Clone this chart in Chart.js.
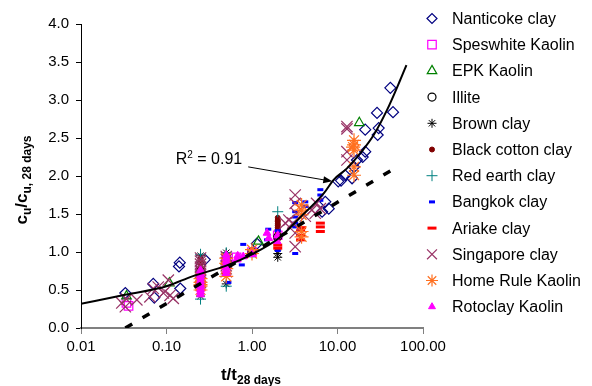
<!DOCTYPE html>
<html>
<head>
<meta charset="utf-8">
<script src="https://cdn.jsdelivr.net/npm/chart.js@4.4.1/dist/chart.umd.min.js"></script>
<style>
  html, body { margin: 0; padding: 0; background: #fff; }
  canvas { display: block; }
</style>
</head>
<body>
<canvas id="strengthChart" width="592" height="386"></canvas>
<script>
// --- axis ticks ---
const xTicks = [0.01, 0.1, 1, 10, 100];
const xTickLabels = ['0.01', '0.10', '1.00', '10.00', '100.00'];
const yTicks = [0, 0.5, 1, 1.5, 2, 2.5, 3, 3.5, 4];

// --- measured points, t/t28 vs cu/cu28 ---
const seriesNames = ['Nanticoke clay', 'Speswhite Kaolin', 'EPK Kaolin', 'Illite', 'Brown clay',
  'Black cotton clay', 'Red earth clay', 'Bangkok clay', 'Ariake clay', 'Singapore clay',
  'Home Rule Kaolin', 'Rotoclay Kaolin'];

const nanticokeX = [0.033, 0.070, 0.072, 0.140, 0.143, 0.145, 0.28, 1.14, 6.6, 7.2, 7.9, 10.2, 11.0, 12.3, 14.8, 15.6, 16.9, 19.7, 21.1, 21.1, 29.0, 29.5, 30.3, 41.5, 44.6];
const nanticokeY = [0.46, 0.58, 0.40, 0.81, 0.86, 0.52, 0.90, 1.11, 1.53, 1.66, 1.57, 1.93, 1.94, 2.01, 1.97, 2.12, 2.21, 2.25, 2.32, 2.61, 2.83, 2.54, 2.63, 3.16, 2.84];

const speswhiteX = [0.034, 0.036, 0.25, 0.25, 0.5, 0.5, 0.66, 1.0, 2.0];
const speswhiteY = [0.33, 0.29, 0.72, 0.55, 0.82, 0.90, 0.93, 1.00, 1.22];

const epkX = [0.034, 0.108, 0.25, 0.5, 1.19, 18.0];
const epkY = [0.42, 0.59, 0.78, 0.88, 1.14, 2.70];

const illiteX = [0.25, 0.5, 1.0, 2.0];
const illiteY = [0.82, 0.91, 1.00, 1.20];

const brownX = [0.25, 0.25, 0.25, 0.5, 0.5, 0.5, 2.0, 2.0];
const brownY = [0.95, 0.88, 0.42, 0.99, 0.92, 0.58, 0.98, 0.93];

const blackCottonX = [0.25, 0.25, 0.25, 0.25, 0.25, 0.25, 0.25, 0.5, 0.5, 0.5, 0.5, 0.5, 0.5, 0.5, 0.5,
  2.0, 2.0, 2.0, 2.0, 2.0, 2.0, 2.0, 2.0, 2.0, 2.0, 2.0, 2.0];
const blackCottonY = [0.90, 0.85, 0.78, 0.74, 0.70, 0.66, 0.62, 0.96, 0.93, 0.89, 0.86, 0.82, 0.79, 0.75, 0.72,
  1.45, 1.42, 1.40, 1.37, 1.35, 1.32, 1.30, 1.28, 1.25, 1.22, 1.20, 1.17];

const redEarthX = [0.25, 0.25, 0.5, 0.5, 2.0];
const redEarthY = [0.97, 0.38, 0.99, 0.55, 1.53];

const bangkokX = [0.25, 0.25, 0.5, 0.53, 0.76, 0.79, 1.0, 1.5, 1.55, 2.0, 2.0, 2.0, 2.0, 3.2, 3.2, 3.2, 3.2, 3.2, 3.2, 4.2, 4.2, 6.3, 6.3, 6.3];
const bangkokY = [0.45, 0.55, 0.70, 0.60, 0.83, 1.10, 0.95, 1.16, 1.30, 1.10, 1.20, 1.28, 1.02, 0.98, 1.33, 1.38, 1.46, 1.53, 1.65, 1.66, 1.60, 1.82, 1.75, 1.68];

const ariakeX = [0.5, 2.0, 2.0, 3.7, 3.7, 3.7, 3.8, 6.3, 6.3, 6.3];
const ariakeY = [0.72, 1.05, 1.09, 1.16, 1.22, 1.28, 1.32, 1.27, 1.33, 1.38];

const singaporeX = [0.030, 0.033, 0.034, 0.045, 0.064, 0.070, 0.080, 0.092, 0.096, 0.105, 0.110, 0.120,
  0.25, 0.25, 0.25, 0.25, 0.25, 0.25, 0.25, 0.25, 0.25,
  0.5, 0.5, 0.5, 0.5, 0.5, 0.5,
  2.45, 2.7, 3.0, 3.2, 3.2, 3.2, 3.3, 3.2, 4.2, 5.0, 5.5, 5.7, 6.3,
  12.9, 12.9, 12.9, 12.9];
const singaporeY = [0.33, 0.28, 0.38, 0.37, 0.41, 0.52, 0.54, 0.46, 0.48, 0.63, 0.43, 0.39,
  0.92, 0.88, 0.84, 0.80, 0.76, 0.72, 0.68, 0.64, 0.60,
  0.94, 0.90, 0.86, 0.82, 0.78, 0.74,
  1.38, 1.42, 1.38, 1.75, 1.64, 1.25, 1.51, 1.07, 1.47, 1.55, 1.51, 1.64, 1.57,
  2.65, 2.62, 2.32, 2.21];

const homeRuleX = [0.25, 0.25, 0.25, 0.25, 0.25, 0.5, 0.5, 0.5, 0.5, 1.0, 1.0, 3.8, 3.8, 3.8, 3.8, 3.8, 15.6, 15.6, 15.6, 15.6, 15.6, 15.2];
const homeRuleY = [0.50, 0.55, 0.57, 0.60, 0.65, 0.92, 0.85, 0.78, 0.68, 1.03, 0.98, 1.20, 1.27, 1.49, 1.55, 1.62, 2.47, 2.41, 2.34, 2.12, 2.01, 2.38];

const rotoclayX = [0.25, 0.25, 0.25, 0.25, 0.25, 0.25, 0.25, 0.25, 0.25, 0.25,
  0.5, 0.5, 0.5, 0.5, 0.5, 0.5, 0.5, 0.66, 0.68, 0.79, 1.0, 1.5, 1.57, 1.97, 2.0];
const rotoclayY = [0.44, 0.48, 0.51, 0.55, 0.58, 0.62, 0.66, 0.69, 0.72, 0.76,
  0.72, 0.76, 0.80, 0.84, 0.88, 0.92, 0.96, 0.90, 0.95, 0.94, 0.97, 1.25, 1.18, 1.14, 1.22];

// trendline (R2 = 0.91) traced along its length, and the dashed reference line
const fitX = [0.01, 0.034, 0.1, 0.2, 0.5, 1, 2, 3.7, 6.9, 9, 12.9, 18.5, 26.5, 38, 54, 64];
const fitY = [0.32, 0.44, 0.55, 0.68, 0.82, 0.97, 1.17, 1.46, 1.77, 1.95, 2.10, 2.30, 2.54, 2.87, 3.26, 3.46];
const dashX = [0.033, 50];
const dashY = [0.0, 2.12];

const FONT = "'Liberation Sans', Arial, sans-serif";

const seriesData = [
  [nanticokeX, nanticokeY], [speswhiteX, speswhiteY], [epkX, epkY], [illiteX, illiteY],
  [brownX, brownY], [blackCottonX, blackCottonY], [redEarthX, redEarthY], [bangkokX, bangkokY],
  [ariakeX, ariakeY], [singaporeX, singaporeY], [homeRuleX, homeRuleY], [rotoclayX, rotoclayY]
];

const markers = [
  { style: 'rectRot',  radius: 5.5, legend: 5,   color: '#000080', fill: false, width: 1.2 },
  { style: 'rect',     radius: 6,   legend: 6,   color: '#FF00FF', fill: false, width: 1.2 },
  { style: 'triangle', radius: 5.5, legend: 5.5, color: '#008000', fill: false, width: 1.2 },
  { style: 'circle',   radius: 4,   legend: 4,   color: '#000000', fill: false, width: 1.2 },
  { style: 'star',     radius: 4.5, legend: 4.5, color: '#000000', fill: false, width: 1 },
  { style: 'circle',   radius: 2.5, legend: 2.5, color: '#800000', fill: true,  width: 1 },
  { style: 'cross',    radius: 5.5, legend: 5.5, color: '#008080', fill: false, width: 1 },
  { style: 'line',     radius: 3,   legend: 3,   color: '#0000FF', fill: false, width: 3 },
  { style: 'line',     radius: 4.5, legend: 4.5, color: '#FF0000', fill: false, width: 3 },
  { style: 'crossRot', radius: 8,   legend: 7,   color: '#993366', fill: false, width: 1.2 },
  { style: 'star',     radius: 7,   legend: 6,   color: '#FF7020', fill: false, width: 1.2 },
  { style: 'triangle', radius: 4.5, legend: 4,   color: '#FF00FF', fill: true,  width: 1 }
];

const toPoints = (xs, ys) => xs.map((x, i) => ({ x: x, y: ys[i] }));

const datasets = seriesNames.map((name, i) => ({
  label: name,
  data: toPoints(seriesData[i][0], seriesData[i][1]),
  pointStyle: markers[i].style,
  pointRadius: markers[i].radius,
  pointBorderWidth: markers[i].width,
  pointBorderColor: markers[i].color,
  pointBackgroundColor: markers[i].fill ? markers[i].color : 'rgba(0,0,0,0)',
  showLine: false,
  order: 100 - i
}));

datasets.push({
  label: 'trend',
  data: toPoints(fitX, fitY),
  showLine: true,
  borderColor: '#000',
  borderWidth: 2,
  pointRadius: 0,
  cubicInterpolationMode: 'monotone',
  order: 0
});
datasets.push({
  label: 'reference',
  data: toPoints(dashX, dashY),
  showLine: true,
  borderColor: '#000',
  borderWidth: 3.5,
  borderDash: [8, 12],
  pointRadius: 0,
  order: 1
});

// legend down the right-hand side
const sideLegend = {
  id: 'sideLegend',
  afterDraw(chart) {
    const ctx = chart.ctx;
    ctx.save();
    ctx.font = '16px ' + FONT;
    ctx.textBaseline = 'middle';
    seriesNames.forEach((name, i) => {
      const m = markers[i];
      const y = 18.5 + i * 26.2;
      ctx.strokeStyle = m.color;
      ctx.fillStyle = m.fill ? m.color : 'rgba(0,0,0,0)';
      ctx.lineWidth = m.width;
      Chart.helpers.drawPoint(ctx, { pointStyle: m.style, radius: m.legend, borderWidth: m.width, rotation: 0 }, 432, y);
      ctx.fillStyle = '#000';
      ctx.fillText(name, 452, y + 1);
    });
    ctx.restore();
  }
};

// axis titles with subscripts, plus the R2 callout
const titlesAndNote = {
  id: 'titlesAndNote',
  afterDraw(chart) {
    const ctx = chart.ctx;
    const drawRuns = (runs, cx, baseY) => {
      let total = 0;
      runs.forEach(r => { ctx.font = r.font; total += ctx.measureText(r.t).width; });
      let x = cx - total / 2;
      runs.forEach(r => {
        ctx.font = r.font;
        ctx.fillText(r.t, x, baseY + r.dy);
        x += ctx.measureText(r.t).width;
      });
    };
    const big = 'bold 17px ' + FONT;
    const sub = 'bold 12px ' + FONT;
    ctx.save();
    ctx.fillStyle = '#000';
    ctx.textBaseline = 'alphabetic';

    // x title
    drawRuns([{ t: 't/t', font: big, dy: 0 }, { t: '28 days', font: sub, dy: 4 }], 251, 380);

    // y title, rotated
    ctx.save();
    ctx.translate(27, 180);
    ctx.rotate(-Math.PI / 2);
    drawRuns([
      { t: 'c', font: big, dy: 0 }, { t: 'u', font: sub, dy: 4 },
      { t: '/c', font: big, dy: 0 }, { t: 'u, 28 days', font: sub, dy: 4 }
    ], 0, 0);
    ctx.restore();

    // R2 callout with arrow to the trendline
    const xs = chart.scales.x, ys = chart.scales.y;
    const tx = xs.getPixelForValue(0.768), ty = ys.getPixelForValue(2.21);
    ctx.font = '16px ' + FONT;
    ctx.textAlign = 'right';
    ctx.textBaseline = 'middle';
    const tail = ' = 0.91';
    const wTail = ctx.measureText(tail).width;
    ctx.fillText(tail, tx, ty);
    ctx.font = '10px ' + FONT;
    const w2 = ctx.measureText('2').width;
    ctx.fillText('2', tx - wTail, ty - 5);
    ctx.font = '16px ' + FONT;
    ctx.fillText('R', tx - wTail - w2, ty);

    const x0 = xs.getPixelForValue(0.903), y0 = ys.getPixelForValue(2.12);
    const x1 = xs.getPixelForValue(8.69), y1 = ys.getPixelForValue(1.93);
    const ang = Math.atan2(y1 - y0, x1 - x0);
    ctx.strokeStyle = '#000';
    ctx.lineWidth = 1;
    ctx.beginPath();
    ctx.moveTo(x0, y0);
    ctx.lineTo(x1 - 6 * Math.cos(ang), y1 - 6 * Math.sin(ang));
    ctx.stroke();
    ctx.beginPath();
    ctx.moveTo(x1, y1);
    ctx.lineTo(x1 - 9 * Math.cos(ang) + 3.5 * Math.sin(ang), y1 - 9 * Math.sin(ang) - 3.5 * Math.cos(ang));
    ctx.lineTo(x1 - 9 * Math.cos(ang) - 3.5 * Math.sin(ang), y1 - 9 * Math.sin(ang) + 3.5 * Math.cos(ang));
    ctx.closePath();
    ctx.fillStyle = '#000';
    ctx.fill();
    ctx.restore();
  }
};

new Chart(document.getElementById('strengthChart'), {
  type: 'scatter',
  data: { datasets: datasets },
  options: {
    responsive: false,
    animation: false,
    devicePixelRatio: 1,
    events: [],
    layout: { padding: { left: 0, right: 169, top: 24, bottom: 0 } },
    plugins: { legend: { display: false }, tooltip: { enabled: false } },
    scales: {
      x: {
        type: 'logarithmic',
        min: 0.01,
        max: 100,
        afterBuildTicks: axis => { axis.ticks = xTicks.map(v => ({ value: v })); },
        afterFit: axis => { axis.height = 58; },
        ticks: {
          autoSkip: false,
          maxRotation: 0,
          padding: 4,
          color: '#000',
          font: { family: FONT, size: 15 },
          callback: (v, i) => xTickLabels[i]
        },
        grid: { drawOnChartArea: false, tickLength: 6, color: '#808080' },
        border: { color: '#808080', width: 2 }
      },
      y: {
        min: 0,
        max: 4,
        afterBuildTicks: axis => { axis.ticks = yTicks.map(v => ({ value: v })); },
        afterFit: axis => { axis.width = 81; },
        ticks: {
          padding: 7,
          color: '#000',
          font: { family: FONT, size: 15 },
          callback: v => v.toFixed(1)
        },
        grid: { drawOnChartArea: false, tickLength: 5, color: '#000' },
        border: { color: '#000', width: 1 }
      }
    }
  },
  plugins: [sideLegend, titlesAndNote]
});
</script>
</body>
</html>
